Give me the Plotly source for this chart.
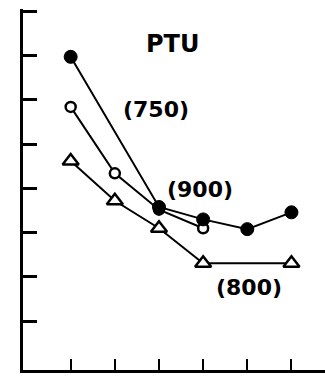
import plotly.graph_objects as go

# Data (y in axis-tick units)
x_750 = [1, 3, 4, 5, 6]
y_750 = [6.97, 3.58, 3.30, 3.08, 3.46]

x_900 = [1, 2, 3, 4]
y_900 = [5.84, 4.34, 3.52, 3.10]

x_800 = [1, 2, 3, 4, 6]
y_800 = [4.62, 3.72, 3.10, 2.31, 2.31]

x_ticks = [1, 2, 3, 4, 5, 6]
y_ticks = [1, 2, 3, 4, 5, 6, 7, 8]

labels = ["PTU", "(750)", "(900)", "(800)"]
label_x = [3.31, 2.93, 3.93, 5.03]
label_y = [7.25, 5.79, 3.98, 1.77]

fig = go.Figure()

fig.add_trace(go.Scatter(
    x=x_800, y=y_800, mode="lines+markers",
    line=dict(color="black", width=2),
    marker=dict(symbol="triangle-up", size=14, color="white",
                line=dict(color="black", width=2.5)),
    showlegend=False, cliponaxis=False))

fig.add_trace(go.Scatter(
    x=x_900, y=y_900, mode="lines+markers",
    line=dict(color="black", width=2),
    marker=dict(symbol="circle", size=10, color="white",
                line=dict(color="black", width=2.5)),
    showlegend=False, cliponaxis=False))

fig.add_trace(go.Scatter(
    x=x_750, y=y_750, mode="lines+markers",
    line=dict(color="black", width=2),
    marker=dict(symbol="circle", size=13, color="black",
                line=dict(color="black", width=1)),
    showlegend=False, cliponaxis=False))

for t, xx, yy, sz in zip(labels, label_x, label_y, [24, 22, 22, 22]):
    fig.add_annotation(x=xx, y=yy, xref="x", yref="y", text=t,
                       showarrow=False,
                       font=dict(family="DejaVu Sans", size=sz, color="black", weight="bold"))

fig.update_xaxes(range=[-0.08, 6.76], showgrid=False, zeroline=False,
                 showline=True, linecolor="black", linewidth=2.5,
                 ticks="inside", ticklen=11, tickwidth=2, tickcolor="black",
                 tickvals=x_ticks, showticklabels=False)
fig.update_yaxes(range=[-0.1, 8.05], showgrid=False, zeroline=False,
                 showline=True, linecolor="black", linewidth=2.5,
                 ticks="inside", ticklen=14, tickwidth=2.5, tickcolor="black",
                 tickvals=y_ticks, showticklabels=False)

fig.update_layout(width=325, height=378,
                  margin=dict(l=23, r=0, t=9, b=8),
                  plot_bgcolor="white", paper_bgcolor="white")

fig.write_html("out.html")
